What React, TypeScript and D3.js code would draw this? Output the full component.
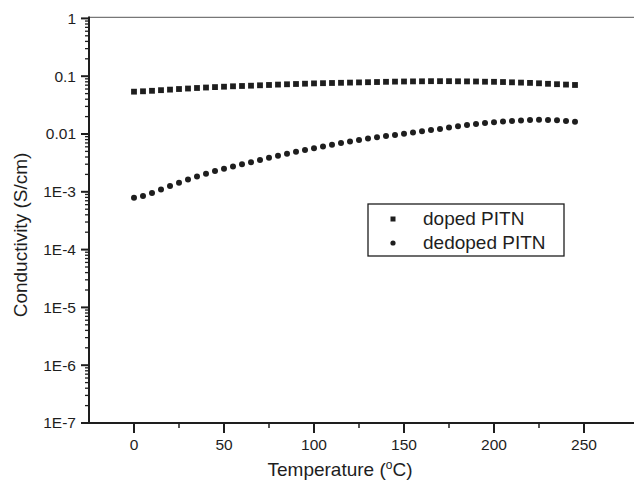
import React from 'react';
import * as d3 from 'd3';

// temperatures (°C) shared by both series
const temps = [
  0, 5, 10, 15, 20, 25, 30, 35, 40, 45, 50, 55, 60, 65, 70, 75, 80, 85, 90, 95,
  100, 105, 110, 115, 120, 125, 130, 135, 140, 145, 150, 155, 160, 165, 170, 175,
  180, 185, 190, 195, 200, 205, 210, 215, 220, 225, 230, 235, 240, 245
];

// conductivity (S/cm), doped PITN
const doped = [
  0.054, 0.0548, 0.0559, 0.0573, 0.0586, 0.06, 0.0612, 0.0625, 0.0637, 0.0648,
  0.0658, 0.0669, 0.0677, 0.0685, 0.0696, 0.0705, 0.0716, 0.0725, 0.0733, 0.0742,
  0.0751, 0.0757, 0.0763, 0.0769, 0.0775, 0.0781, 0.0787, 0.0793, 0.08, 0.0806,
  0.081, 0.0813, 0.0816, 0.082, 0.082, 0.082, 0.0816, 0.0813, 0.081, 0.0803,
  0.08, 0.0793, 0.0784, 0.0775, 0.0766, 0.0754, 0.0739, 0.0727, 0.0716, 0.0705
];

// conductivity (S/cm), dedoped PITN
const dedoped = [
  7.91e-4, 8.46e-4, 9.53e-4, 1.096e-3, 1.26e-3, 1.431e-3, 1.632e-3, 1.839e-3, 2.056e-3, 2.29e-3,
  2.51e-3, 2.74e-3, 2.99e-3, 3.24e-3, 3.55e-3, 3.88e-3, 4.2e-3, 4.54e-3, 4.92e-3, 5.29e-3,
  5.66e-3, 6.08e-3, 6.5e-3, 6.96e-3, 7.42e-3, 7.9e-3, 8.36e-3, 8.77e-3, 9.2e-3, 9.65e-3,
  1.012e-2, 1.062e-2, 1.113e-2, 1.168e-2, 1.22e-2, 1.29e-2, 1.36e-2, 1.43e-2, 1.49e-2, 1.55e-2,
  1.6e-2, 1.645e-2, 1.68e-2, 1.72e-2, 1.75e-2, 1.77e-2, 1.75e-2, 1.73e-2, 1.68e-2, 1.63e-2
];

const xMajor = [0, 50, 100, 150, 200, 250];
const xMinor = [25, 75, 125, 175, 225];
const yMajor = [1, 0.1, 0.01, 1e-3, 1e-4, 1e-5, 1e-6, 1e-7];
const yLabels = ['1', '0.1', '0.01', '1E-3', '1E-4', '1E-5', '1E-6', '1E-7'];
const legendNames = ['doped PITN', 'dedoped PITN'];

const W = 634;
const H = 482;
const FONT = '"Liberation Sans", Arial, Helvetica, sans-serif';
const INK = '#1e1e1e';

export default function App() {
  const x = d3.scaleLinear().domain([-25, 280]).range([89, 638]);
  const y = d3.scaleLog().domain([1e-7, 1]).range([423, 18.4]);

  const yMinor: number[] = [];
  for (let e = -7; e < 0; e++) {
    for (let m = 2; m <= 9; m++) yMinor.push(m * Math.pow(10, e));
  }

  const [x0, x1] = x.range();
  const [yb, yt] = y.range();

  return (
    <svg
      width={W}
      height={H}
      style={{ position: 'absolute', left: 0, top: 0, background: '#fff' }}
      fontFamily={FONT}
    >
      {/* frame top */}
      <line x1={x0} x2={x1} y1={yt - 1} y2={yt - 1} stroke="#777" strokeWidth={1.3} />

      {/* y axis */}
      <line x1={x0} x2={x0} y1={yb} y2={yt - 2} stroke={INK} strokeWidth={2} />
      {yMinor.map((v, i) => (
        <line key={'ym' + i} x1={x0 - 4} x2={x0} y1={y(v)} y2={y(v)} stroke={INK} strokeWidth={1.3} />
      ))}
      {yMajor.map((v, i) => (
        <g key={'yM' + i}>
          <line x1={x0 - 8} x2={x0} y1={y(v)} y2={y(v)} stroke={INK} strokeWidth={2} />
          <text x={76} y={y(v)} dy="0.35em" textAnchor="end" fontSize={15.5} fill={INK}>
            {yLabels[i]}
          </text>
        </g>
      ))}

      {/* x axis */}
      <line x1={x0 - 1} x2={x1} y1={yb} y2={yb} stroke={INK} strokeWidth={2} />
      {xMinor.map((v, i) => (
        <line key={'xm' + i} x1={x(v)} x2={x(v)} y1={yb} y2={yb + 5} stroke={INK} strokeWidth={1.5} />
      ))}
      {xMajor.map((v, i) => (
        <g key={'xM' + i}>
          <line x1={x(v)} x2={x(v)} y1={yb} y2={yb + 10} stroke={INK} strokeWidth={2} />
          <text x={x(v)} y={450} textAnchor="middle" fontSize={15.5} fill={INK}>
            {v}
          </text>
        </g>
      ))}

      {/* axis titles */}
      <text x={340} y={476} textAnchor="middle" fontSize={19} fill={INK}>
        Temperature (
        <tspan fontSize={12} dy={-7}>o</tspan>
        <tspan dy={7}>C)</tspan>
      </text>
      <text
        transform="translate(27,235) rotate(-90)"
        textAnchor="middle"
        fontSize={19}
        fill={INK}
      >
        Conductivity (S/cm)
      </text>

      {/* data */}
      {temps.map((t, i) => (
        <rect
          key={'s' + i}
          x={x(t) - 2.9}
          y={y(doped[i]) - 2.9}
          width={5.8}
          height={5.8}
          fill={INK}
        />
      ))}
      {temps.map((t, i) => (
        <circle key={'c' + i} cx={x(t)} cy={y(dedoped[i])} r={3} fill={INK} />
      ))}

      {/* legend */}
      <rect x={368} y={204} width={196} height={52} fill="none" stroke={INK} strokeWidth={1.3} />
      <rect x={390.5} y={216.5} width={5} height={5} fill={INK} />
      <circle cx={393} cy={243} r={2.6} fill={INK} />
      <text x={423} y={224.5} fontSize={19} fill={INK}>
        {legendNames[0]}
      </text>
      <text x={423} y={249} fontSize={19} fill={INK}>
        {legendNames[1]}
      </text>
    </svg>
  );
}
